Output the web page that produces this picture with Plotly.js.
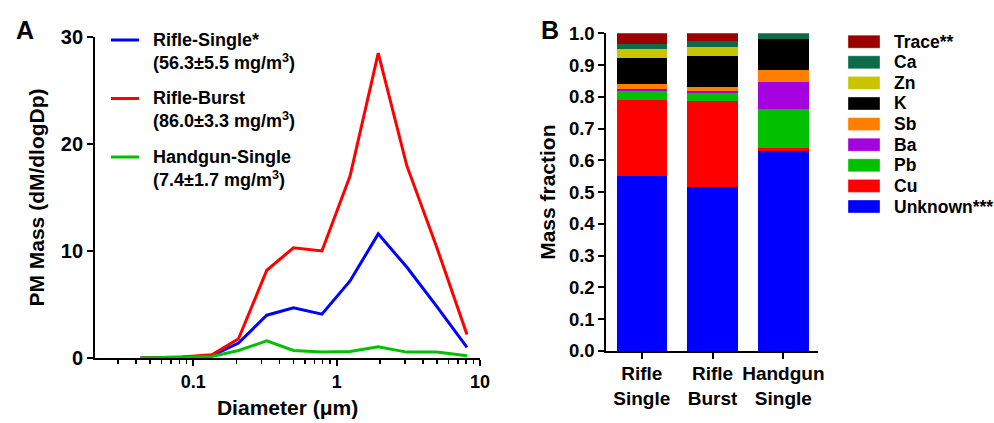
<!DOCTYPE html>
<html>
<head>
<meta charset="utf-8">
<script src="https://cdn.plot.ly/plotly-3.0.1.min.js"></script>
<style>html,body{margin:0;padding:0;background:#fff;}#chart{width:994px;height:423px;}</style>
</head>
<body>
<div id="chart"></div>
<script>
// ---- Panel A data: size distributions ----
const diameters = [0.043, 0.083, 0.135, 0.207, 0.326, 0.50, 0.79, 1.24, 1.95, 3.08, 5.0, 8.1];
const rifleSingle = [0, 0.05, 0.2, 1.4, 4.0, 4.7, 4.1, 7.2, 11.6, 8.5, 4.8, 1.0];
const rifleBurst = [0, 0.1, 0.3, 1.8, 8.2, 10.3, 10.0, 17.0, 28.5, 18.0, 10.3, 2.2];
const handgunSingle = [0, 0.05, 0.15, 0.7, 1.6, 0.7, 0.55, 0.6, 1.05, 0.55, 0.55, 0.2];
const seriesNamesA = ["Rifle-Single*", "Rifle-Burst", "Handgun-Single"];
const seriesConcA = ["(56.3±5.5 mg/m<sup>3</sup>)", "(86.0±3.3 mg/m<sup>3</sup>)", "(7.4±1.7 mg/m<sup>3</sup>)"];
const xTickValsA = [0.1, 1, 10];
const xTickTextA = ["0.1", "1", "10"];
const yTickValsA = [0, 10, 20, 30];

// ---- Panel B data: mass fractions (bottom to top) ----
const categoriesB = ["Rifle Single", "Rifle Burst", "Handgun Single"];
const categoryLabelsB = ["Rifle<br>Single", "Rifle<br>Burst", "Handgun<br>Single"];
const componentsB = ["Unknown***", "Cu", "Pb", "Ba", "Sb", "K", "Zn", "Ca", "Trace**"];
const unknownFrac = [0.552, 0.515, 0.630];
const cuFrac = [0.238, 0.272, 0.010];
const pbFrac = [0.028, 0.025, 0.122];
const baFrac = [0.006, 0.007, 0.084];
const sbFrac = [0.015, 0.013, 0.039];
const kFrac = [0.082, 0.097, 0.097];
const znFrac = [0.031, 0.029, 0.000];
const caFrac = [0.013, 0.017, 0.018];
const traceFrac = [0.035, 0.025, 0.000];

const FONT = "Liberation Sans, Arial, Helvetica, sans-serif";
const colorsA = ["#0000ff", "#ff0000", "#00c000"];
const colorsB = ["#0000ff", "#ff0000", "#00c000", "#a500e0", "#ff8000", "#000000", "#c8c400", "#0d6b47", "#990000"];
const fracsB = [unknownFrac, cuFrac, pbFrac, baFrac, sbFrac, kFrac, znFrac, caFrac, traceFrac];

const W = 994, H = 423;
const tf = (s) => ({family: FONT, size: s, color: "#000", weight: 700});
const traces = [];
[rifleSingle, rifleBurst, handgunSingle].forEach((ys, i) => {
  traces.push({
    type: "scatter", mode: "lines", x: diameters, y: ys, name: seriesNamesA[i],
    line: {color: colorsA[i], width: 3}, showlegend: false,
    xaxis: "x", yaxis: "y", hoverinfo: "skip"
  });
});
fracsB.forEach((vals, i) => {
  traces.push({
    type: "bar", x: categoriesB, y: vals, name: componentsB[i],
    marker: {color: colorsB[i], line: {width: 0}},
    xaxis: "x2", yaxis: "y2", showlegend: false, hoverinfo: "skip"
  });
});

const shapes = [];
const annotations = [];
// Panel A legend: line keys + two-line labels
const legendRowsA = [40, 98.5, 157];
seriesNamesA.forEach((nm, i) => {
  const yc = legendRowsA[i];
  shapes.push({
    type: "line", xref: "paper", yref: "paper",
    x0: 111 / W, x1: 139 / W, y0: 1 - yc / H, y1: 1 - yc / H,
    line: {color: colorsA[i], width: 3}
  });
  annotations.push({
    text: nm + "<br>" + seriesConcA[i], xref: "paper", yref: "paper",
    x: 151 / W, y: 1 - (yc + 11.5) / H, xanchor: "left", yanchor: "middle", align: "left",
    showarrow: false, font: tf(18)
  });
});
// Panel B legend (key boxes + labels), top row = last component
const n = componentsB.length;
for (let r = 0; r < n; r++) {
  const i = n - 1 - r;
  const yc = 41.7 + r * 20.6;
  shapes.push({
    type: "rect", xref: "paper", yref: "paper",
    x0: 848 / W, x1: 880 / W, y0: 1 - (yc + 6.5) / H, y1: 1 - (yc - 6.5) / H,
    fillcolor: colorsB[i], line: {width: 0.6, color: "rgba(255,255,255,0.6)"}
  });
  annotations.push({
    text: componentsB[i], xref: "paper", yref: "paper", x: 892 / W, y: 1 - yc / H,
    xanchor: "left", yanchor: "middle", showarrow: false, font: tf(17.5)
  });
}
annotations.push(
  {text: "A", xref: "paper", yref: "paper", x: 0.025, y: 1 - 30 / H, xanchor: "center", yanchor: "middle",
   showarrow: false, font: tf(25)},
  {text: "B", xref: "paper", yref: "paper", x: 0.553, y: 1 - 30 / H, xanchor: "center", yanchor: "middle",
   showarrow: false, font: tf(25)}
);

const minorA = [];
[0.01, 0.1, 1].forEach(d => { for (let k = 2; k <= 9; k++) minorA.push(d * k); });

const axisCommon = {
  showline: true, linecolor: "#000", linewidth: 2, ticks: "outside", ticklen: 6, tickwidth: 2,
  tickcolor: "#000", showgrid: false, zeroline: false
};

const layout = {
  width: W, height: H,
  margin: {l: 0, r: 0, t: 0, b: 0},
  paper_bgcolor: "#fff", plot_bgcolor: "rgba(0,0,0,0)",
  font: {family: FONT, color: "#000", weight: 700},
  showlegend: false,
  barmode: "stack", bargap: 0.29,
  xaxis: Object.assign({}, axisCommon, {
    type: "log", domain: [0.0956, 0.483], range: [Math.log10(0.0207), 1],
    anchor: "y", tickvals: xTickValsA, ticktext: xTickTextA, tickfont: tf(18),
    minor: {ticks: "outside", ticklen: 4, tickwidth: 1.5, tickcolor: "#000", tickvals: minorA, showgrid: false},
    title: {text: "Diameter (μm)", font: tf(21), standoff: 10}
  }),
  yaxis: Object.assign({}, axisCommon, {
    domain: [0.1537, 0.9125], range: [0, 30], anchor: "x", tickvals: yTickValsA, tickfont: tf(20),
    title: {text: "PM Mass (dM/dlogDp)", font: tf(21), standoff: 10}
  }),
  xaxis2: Object.assign({}, axisCommon, {
    type: "category", domain: [0.610, 0.823], range: [-0.5, 2.49], anchor: "y2",
    tickvals: categoriesB, ticktext: categoryLabelsB, tickfont: tf(19), ticklabelstandoff: -2
  }),
  yaxis2: Object.assign({}, axisCommon, {
    domain: [0.1702, 0.9213], range: [0, 1], anchor: "x2", dtick: 0.1, tickformat: ".1f", tickfont: tf(18.5),
    title: {text: "Mass fraction", font: tf(21), standoff: 8}
  }),
  shapes: shapes,
  annotations: annotations
};

Plotly.newPlot("chart", traces, layout, {staticPlot: true, displayModeBar: false});
</script>
</body>
</html>
